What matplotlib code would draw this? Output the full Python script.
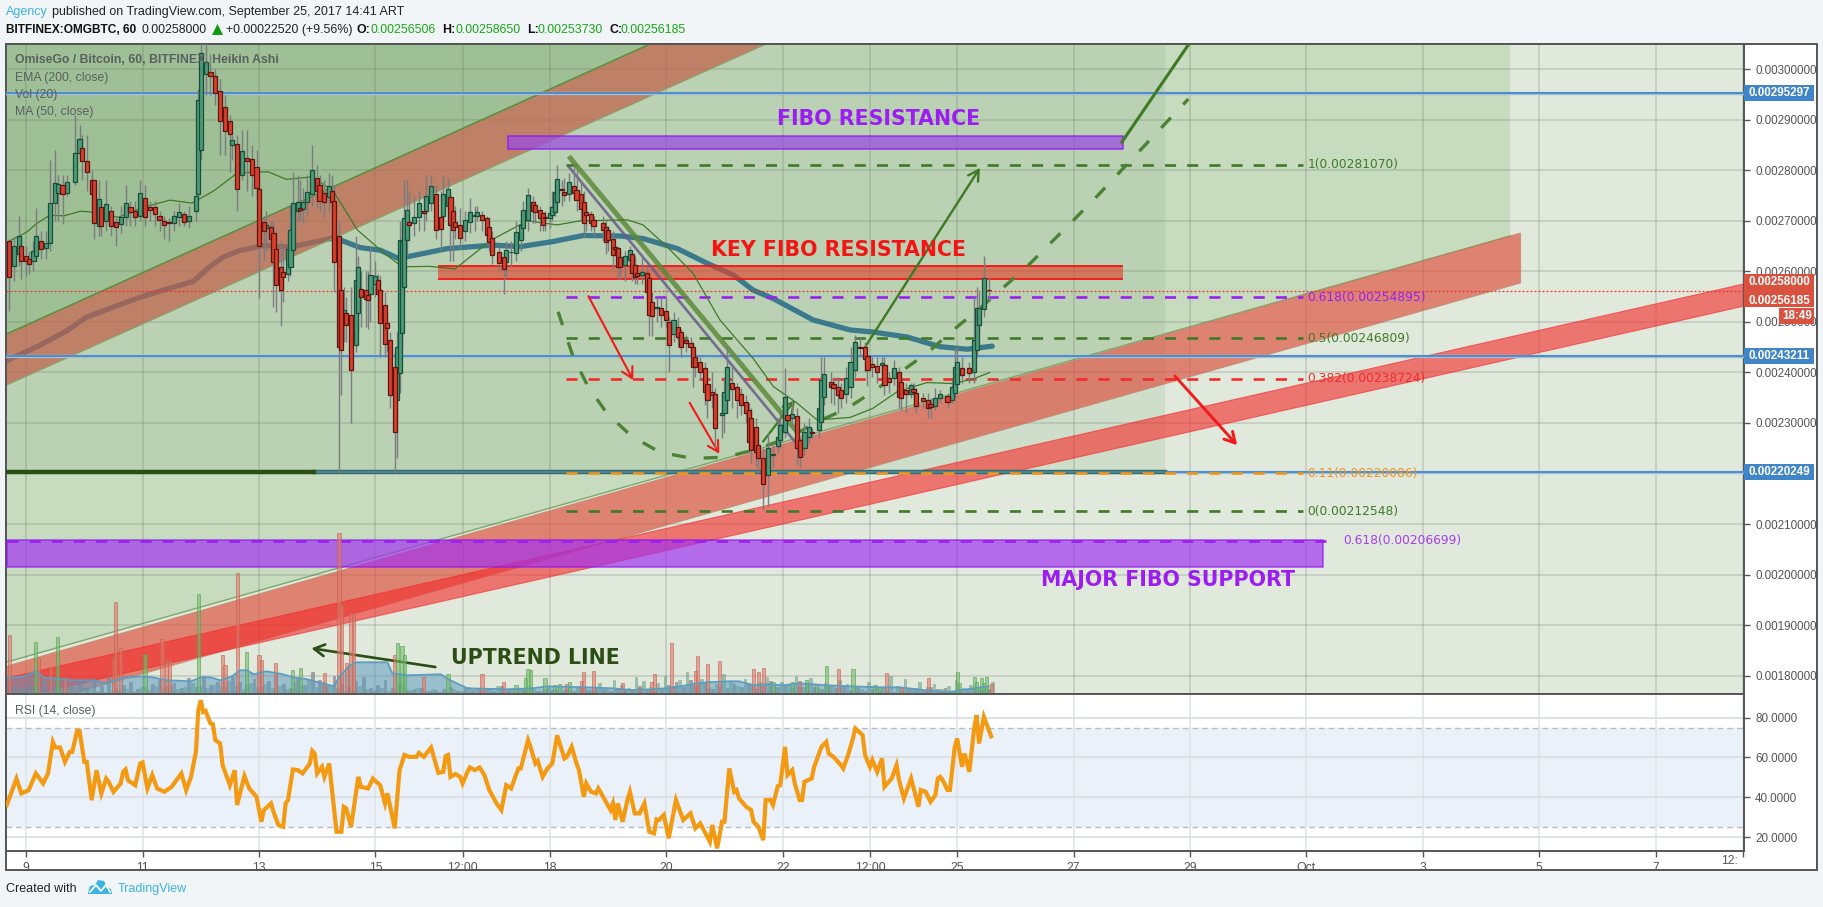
import numpy as np
import matplotlib
matplotlib.use('Agg')
import matplotlib.pyplot as plt
from matplotlib.patches import Polygon, Rectangle

# prices are in units of 1e-5 BTC, x axis is day of september (oct 1 = 31)
price_ticks = [300, 290, 280, 270, 260, 250, 240, 230, 220, 210, 200, 190, 180]
rsi_ticks = [80, 60, 40, 20]
date_ticks = [9, 11, 13, 15, 16.5, 18, 20, 22, 23.5, 25, 27, 29, 31, 33, 35, 37]
date_labels = ['9', '11', '13', '15', '12:00', '18', '20', '22', '12:00', '25', '27', '29', 'Oct', '3', '5', '7']
start_day = 8.665

candle_hour = [1, 3, 5, 6, 8, 9, 11, 12, 14, 16,
    18, 20, 21, 23, 25, 28, 30, 31, 33, 35,
    36, 38, 39, 41, 43, 45, 47, 49, 51, 53,
    55, 57, 59, 61, 63, 65, 67, 69, 71, 73,
    75, 78, 79, 80, 82, 84, 86, 88, 90, 92,
    93, 95, 97, 99, 101, 103, 104, 106, 107, 109,
    110, 111, 113, 114, 116, 117, 118, 120, 121, 122,
    124, 126, 128, 129, 131, 133, 134, 135, 137, 138,
    139, 140, 142, 144, 145, 146, 148, 149, 150, 152,
    153, 154, 156, 157, 158, 160, 161, 162, 163, 164,
    165, 166, 168, 170, 172, 173, 175, 177, 179, 180,
    182, 183, 184, 185, 187, 189, 191, 193, 194, 196,
    198, 199, 200, 203, 205, 206, 208, 210,
    212, 213, 215, 217, 218, 220, 221, 222, 224, 225,
    226, 227, 229, 230, 232, 234, 235, 237, 238, 239,
    241, 242, 246, 247, 248, 250, 251, 252, 253, 255,
    257, 258, 259, 260, 262, 264, 265, 266, 268, 270,
    272, 273, 275, 277, 278, 280, 282, 283, 284, 286,
    288, 289, 291, 292, 295, 296, 297, 299, 301, 303, 305,
    306, 307, 309, 310, 312, 314, 316, 318, 319, 321,
    322, 324, 326, 327, 329, 331, 332, 335, 336, 337,
    340, 341, 343, 344, 346, 348, 350, 352, 354, 355,
    357, 359, 361, 362, 364, 366, 368, 369, 371, 373,
    374, 375, 378, 380, 381, 383, 385, 388, 390, 391,
    392, 394, 397, 399, 400, 401, 403, 405]
candle_open = [266.1, 261.1, 263.4, 265, 263, 262.4, 262, 263, 266, 264.7,
    265.7, 273.5, 275.6, 277, 275.5, 277.6, 283.5, 284.5, 281.9, 278,
    278, 269, 272.7, 270, 272, 269.7, 269.3, 270.7, 272.7, 272,
    271, 274.6, 272.7, 272.7, 271, 270, 269.7, 269.6, 270.7, 271.3,
    270, 272, 275.3, 284, 299, 299.4, 298.7, 295.7, 292.5, 289.8,
    285, 285.2, 279, 282.5, 282.2, 280.6, 276.3, 269.7, 268.5, 268.8,
    267.5, 264.5, 260.9, 259.9, 259.5, 260.9, 264.2, 272, 272.6, 272.3,
    273.7, 275.4, 278.4, 277, 275.6, 274.8, 276, 274, 267, 256.3,
    250.3, 251.7, 251.3, 245.4, 251.8, 256.6, 256.3, 255.3, 255.6, 257.6,
    258.3, 256.3, 253.3, 249.7, 246.4, 241, 234.5, 239.8, 247.9, 256.9,
    266.2, 269.8, 269.5, 270.8, 272, 272, 273.5, 275.4, 270.8, 271,
    273, 274.8, 272, 269.8, 269.2, 267.9, 269.8, 271, 270.9, 271.2,
    270.5, 268.8, 266.7, 263.9, 262.9, 261.9, 263.8, 263.6,
    266.2, 268.5, 270.2, 273.8, 273.1, 272.1, 271.5, 270.8, 270.5, 271.2,
    271.8, 273.8, 276.4, 275.8, 275.4, 276.9, 276.1, 275.4, 273.8, 271.8,
    271.3, 270.2, 269.6, 268.7, 268.2, 266.5, 264.9, 264.7, 262.9, 261.2,
    262.2, 263.4, 261.2, 259.7, 259.3, 259.6, 258.6, 254, 252.8, 252.7,
    252.2, 250, 247.7, 249, 248, 246.4, 245.9, 245, 243.1, 242.1,
    240.8, 237.8, 236.2, 235.8, 231.6, 231.9, 234.5, 238, 237.2, 235.8, 234.2,
    232.5, 230.9, 229.2, 225.6, 223, 219.7, 223.7, 225.5, 226.6, 228.2,
    231.5, 230.9, 231.4, 226.6, 225.1, 227.2, 228.3, 228.6, 230.2, 235.2,
    238.1, 237.7, 237.2, 236.5, 235.8, 237.2, 240.5, 245, 245, 243.2,
    241.6, 241.3, 241.4, 241.4, 238.8, 238.8, 240, 238.1, 236.5, 235.8,
    236.8, 236, 235, 234.6, 233.7, 233.4, 235, 235.3, 234.6, 236,
    237.8, 240.8, 240.8, 240, 244.4, 249.4, 252.5, 256.4]
candle_close = [258.8, 265.1, 267, 262, 262, 261.4, 264, 267, 264.5, 265.7,
    273.5, 277.5, 277.3, 275.3, 277.6, 283.5, 286.2, 281.9, 279.6, 275.3,
    269.5, 274.3, 269, 273.3, 269, 268.7, 270.7, 273.6, 271.7, 270.7,
    275.6, 270.7, 272.2, 271.3, 270.1, 269.2, 269.6, 271, 271.8, 269.7,
    271, 275, 294, 303.3, 301.4, 298.7, 295.4, 289.8, 287.7, 287.2,
    286, 276.3, 283.9, 281.9, 279, 276.6, 265, 268, 269.2, 266.5,
    261.9, 257.3, 256.3, 258.9, 264.5, 268.2, 273.5, 273.8, 272.2, 273.8,
    275.8, 280, 276, 274, 273.8, 276.8, 273.8, 261.9, 245, 244.5,
    252.3, 249.4, 240.4, 258.3, 260.9, 255, 254.6, 254.3, 259.3, 259,
    255.6, 249.8, 245.7, 248.7, 235.5, 228.2, 245, 266.2, 266, 270.5,
    272.1, 269.2, 270.8, 273.5, 271.5, 275, 276.8, 268.2, 268.3, 275.4,
    276.4, 269.2, 268.2, 268.8, 266.7, 270.2, 271.8, 271.2, 271.8, 270.2,
    267.2, 265.9, 263.2, 261.6, 260.4, 264.2, 263.9, 267.8,
    269.2, 272.1, 275.1, 271.9, 271.8, 270.5, 269.2, 270.5, 271.5, 272.7,
    275.8, 278.2, 276.1, 275.1, 277.7, 275.6, 274.1, 272.3, 269.6, 271.1,
    269.6, 269, 268.2, 265.9, 266.2, 263.2, 264.4, 260.9, 260.8, 263,
    264.2, 259.6, 258.9, 259, 259.9, 256, 251.3, 251.1, 252.9, 251.3,
    250.4, 245.4, 250.3, 247, 245, 245.8, 245, 241.1, 241.1, 240.1,
    236.2, 234.5, 235.5, 229.1, 231.9, 236.2, 241.1, 236.8, 234.5, 233.5, 231.9,
    226.3, 224.6, 224.3, 223, 218, 225, 223.9, 227.3, 229.6, 235.2,
    230.6, 231.7, 225.1, 223.2, 228.2, 229.2, 228.1, 232.9, 238.6, 239.6,
    237.2, 237, 235.5, 235, 238.8, 242.1, 246, 244.9, 242.6, 240.5,
    241, 240.1, 241.9, 237.5, 238.1, 240.8, 235.2, 235, 235.8, 237.6,
    236.2, 233.4, 234.4, 232.9, 233.1, 235, 235.8, 234.2, 237.2, 241,
    242.1, 239.5, 239.8, 246.4, 252.7, 252.7, 258.6, 256.3]
candle_high = [266.5, 267, 271, 267, 265, 264, 266, 272.5, 268, 268,
    282, 284, 279, 279, 279, 291, 289, 287, 287, 280,
    278, 278, 274, 278, 273, 271, 273, 277, 274, 274,
    278, 277, 274, 274, 272, 271, 270.5, 272, 273.5, 272,
    273, 277, 296, 307, 306, 303, 300, 298, 295, 291,
    287, 287, 288, 288, 285, 284, 278, 271, 272, 270,
    270, 268, 266, 265, 268, 273, 279.6, 279, 278, 276.5,
    279, 285, 281, 279, 278, 279.5, 279, 277, 270, 258,
    257, 255, 257, 267, 263, 260, 260, 260, 265, 262,
    259.5, 259, 256, 252, 248, 244, 248, 270, 269, 278,
    278, 276, 275, 276, 275, 279, 279, 277, 276, 279,
    278.5, 276, 274, 273, 272.5, 272, 274.5, 273, 273, 272,
    271, 270, 268, 265, 264, 266, 266, 270,
    272, 274, 276.5, 275, 274, 273, 271.5, 272, 273, 276,
    278, 281, 278, 278.5, 279.5, 281, 280, 278, 276, 273,
    272, 271, 271, 270, 269, 268, 265.5, 265, 264, 264,
    265, 264, 263, 261, 263, 261, 259, 256, 255, 255,
    255, 251, 252, 251, 248.5, 247.5, 247, 246, 244, 243,
    242, 239, 240, 237, 236, 239, 245.5, 241, 238, 237, 235.5,
    234, 233, 231, 227, 225, 228, 226, 231, 232, 240.8,
    234, 235, 233, 227, 230, 231, 229, 234.5, 243, 243,
    240, 239, 239, 238, 241, 245, 247.5, 247, 246, 243.5,
    243, 243, 243, 243, 240, 242.5, 241, 239, 238, 238,
    238, 237, 236, 236, 235, 237, 236.5, 236, 238.5, 245,
    245, 243, 242, 255, 257, 256, 263, 258.6]
candle_low = [252.2, 258, 261, 258.5, 259, 259.5, 260, 262, 262.5, 262.5,
    264, 270, 270, 269.4, 275, 277, 282, 278, 276, 272,
    266.5, 267, 267, 268, 267, 265, 267.5, 269, 269, 269,
    270, 269, 270, 269, 268, 266.5, 266, 268, 269, 269,
    268.5, 270, 274, 282, 295, 295, 293, 283, 283, 279.6,
    282, 272, 278, 276, 275, 274, 254.8, 262, 264, 262,
    253, 252, 249.2, 254, 258, 259, 263, 270, 270, 269.5,
    271, 273, 272.5, 272, 270.5, 272, 270, 256, 220, 235.5,
    246, 246, 230, 244, 248, 249, 249, 248.5, 250, 255,
    252, 243, 243, 244, 233, 220, 223, 236, 245, 255,
    263, 266, 267, 268, 268, 270, 272, 266.5, 264, 270,
    272, 262, 262, 266.5, 264.5, 266, 267.5, 268, 270, 268,
    265.5, 264, 261.5, 260, 255.6, 259, 261, 262,
    264, 266.5, 268, 269.5, 269.5, 268, 268, 268, 268.5, 270,
    271, 273, 273, 274, 274, 274.5, 272, 270, 266.8, 268,
    268, 267, 266, 263.5, 264, 260.5, 263, 258.5, 258.5, 258,
    260, 258, 257.5, 257.5, 257.5, 254, 247.2, 247.2, 250, 249,
    249, 240.1, 246, 245, 243, 244, 243.5, 237.2, 239, 238.5,
    233.5, 231, 233, 225, 227, 228, 232, 233, 231, 231.5, 230,
    224, 222, 221.5, 220, 212.8, 213.5, 221, 224, 225, 227,
    229, 229, 221.6, 221, 223.5, 226, 227, 227, 231.5, 233.5,
    234, 233.5, 232, 233, 234, 235, 239, 243, 240, 237.4,
    239, 238, 239.5, 235.5, 236, 237.5, 233, 232.5, 232, 235,
    233, 232, 233, 231, 231, 232.5, 234, 233, 234, 235,
    237, 238, 238, 238, 243, 248, 251, 254]

ema_day = [8.66, 9.22, 9.69, 10.03, 10.49, 10.94, 11.41, 11.87, 12.14, 12.38, 12.66, 13.07, 13.54, 14.27, 14.4, 14.74,
    15.08, 15.39, 15.55, 15.89, 16.23, 16.68, 17.02, 17.49, 18.05, 18.57, 19.21, 19.6, 20.19, 20.7, 21.15, 21.49,
    21.84, 22.52, 23.16, 23.55, 24.14, 24.7, 25.17, 25.6]
ema_val = [242.3, 245.3, 248.2, 250.9, 252.9, 254.8, 256.5, 258, 260.8, 262.8, 264.1, 265.1, 264.8, 266.6, 266.2, 264.7,
    264.2, 262.6, 262.9, 263.7, 264.5, 264.9, 265.2, 264.9, 265.9, 267.1, 267, 266.5, 264.5, 261.6, 259.3, 256.3,
    254.6, 250.4, 248.4, 248, 247, 245.1, 244.6, 245.2]
ma_day = [8.66, 9, 9.17, 9.4, 9.65, 9.93, 10.08, 10.58, 11.01, 11.47, 11.85, 12.23, 12.63, 13.16, 13.47, 13.91, 14.27,
    14.69, 15.15, 15.46, 15.92, 16.37, 16.99, 17.61, 18.12, 18.52, 19.33, 19.6, 20.01, 20.46, 20.92, 21.49, 21.84,
    22.25, 22.59, 23.16, 23.55, 23.97, 24.48, 24.93, 25.27, 25.56]
ma_val = [265.7, 267.7, 269.4, 271.1, 271, 271.9, 271.8, 270.7, 272.7, 274.1, 273.5, 276, 279.5, 279.7, 278.2, 278.7, 276,
    268.2, 263.6, 260.9, 261, 260.5, 266.2, 270, 269.2, 270, 270.2, 269.2, 264.9, 259.6, 250.4, 242.8, 237.2,
    233.9, 230.6, 231.1, 232.9, 236.2, 238, 237.8, 238.7, 240]

cup_day = [18.14, 18.40, 18.66, 18.98, 19.40, 19.89, 20.44, 21.0, 21.49, 22.09, 22.59, 23.11, 23.59, 24.50, 24.93, 25.39,
    26.22, 27.02, 27.42, 28.97]
cup_val = [252.0, 243.0, 237.1, 231.9, 227.4, 224.2, 223.0, 223.2, 224.6, 227.0, 230.2, 232.9, 236.5, 244.0, 248.4, 252.7,
    261.2, 270.4, 275.1, 294.1]

fib_levels = [281.07, 254.895, 246.809, 238.724, 220.086, 212.548]
fib_names = ['1(0.00281070)', '0.618(0.00254895)', '0.5(0.00246809)', '0.382(0.00238724)', '0.11(0.00220086)', '0(0.00212548)']
fib_colors = ['#3f7a27', '#9c1ff2', '#3f7a27', '#f22b2b', '#f0961a', '#3f7a27']
blue_levels = [295.297, 243.211, 220.249]

vol_red_hour = [1, 13, 18, 24, 44, 45, 47, 64, 66, 67, 89, 90, 95, 104, 105, 111, 131, 137, 138, 140, 142, 143, 160, 172,
    196, 205, 231, 237, 238, 242, 254, 261, 266, 267, 274, 284, 285, 289, 294, 308, 310, 312, 327, 343, 363, 369, 380, 406]
vol_red = [59, 36, 27, 17, 37, 92, 46, 55, 34, 34, 39, 29, 121, 39, 34, 31, 21, 161, 89, 31, 81, 81, 39, 17,
    20, 12, 10, 13, 22, 23, 11, 6, 12, 20, 51, 23, 38, 30, 33, 25, 22, 26, 13, 25, 21, 6, 16, 10]
vol_green_hour = [12, 21, 57, 79, 99, 118, 121, 161, 163, 164, 182, 210, 214, 215, 216, 222, 226, 228, 232, 316, 324, 330,
    334, 338, 349, 358, 360, 392, 393, 399, 400, 402, 403, 404]
vol_green = [52, 57, 40, 100, 42, 24, 26, 51, 48, 39, 20, 9, 16, 25, 24, 16, 9, 10, 12, 12, 12, 14,
    9, 28, 25, 9, 7, 22, 11, 17, 12, 16, 11, 17]
# small bars, one every 3 hours from hour 0
vol_small = [12, 8, 5, 9, 6, 14, 8, 5, 10, 7, 12, 6, 15, 8, 18, 6, 9, 12, 5, 7, 10, 14, 8, 11, 6, 16, 7, 18, 9, 12,
    8, 17, 12, 9, 15, 8, 13, 20, 10, 6, 15, 9, 22, 14, 8, 18, 11, 7, 13, 17, 6, 9, 14, 6, 11, 4, 5, 6, 3, 4,
    5, 7, 3, 6, 4, 6, 5, 3, 8, 5, 4, 6, 7, 3, 5, 4, 2, 5, 3, 6, 4, 7, 5, 3, 6, 4, 5, 8, 4, 3, 6, 9, 12, 7, 14, 9,
    12, 5, 8, 6, 10, 7, 11, 5, 8, 13, 7, 9, 6, 8, 11, 7, 5, 9, 6, 8, 4, 7, 3, 5, 4, 3, 2, 3, 5, 6, 4, 7, 5, 6, 3, 5, 4, 6, 4, 5]
volma_hour = [0, 7, 12, 15, 27, 36, 41, 47, 55, 60, 66, 76, 80, 84, 88, 93, 96, 99, 102, 107, 114, 118, 124, 130, 135, 137,
    141, 144, 157, 159, 165, 179, 183, 190, 206, 217, 223, 238, 250, 258, 272, 278, 285, 289, 298, 302, 308, 314, 320, 327,
    338, 348, 359, 368, 379, 388, 396, 405]
volma_val = [16, 18, 23, 17, 14, 14, 11, 16, 18, 17, 14, 13, 17, 17, 14, 18, 24, 24, 20, 23, 20, 17, 15, 11, 8, 17,
    28, 32, 32, 21, 19, 20, 14, 6, 5, 6, 8, 7, 6, 4, 6, 8, 11, 12, 13, 13, 9, 10, 9, 11,
    9, 8, 7, 7, 4, 2, 5, 8]

rsi_hour = [0, 4, 6, 9, 12, 15, 17, 19, 20, 22, 24, 26, 27, 29, 30, 32, 33, 35, 37, 39, 41, 42, 44, 47, 48, 49, 50, 53, 55, 56,
    58, 60, 62, 65, 68, 72, 74, 76, 78, 79, 80, 81, 82, 84, 85, 86, 88, 89, 90, 92, 94, 95, 98, 100, 103, 105, 106, 109, 110, 112,
    114, 115, 116, 118, 120, 122, 125, 126, 127, 128, 130, 131, 133, 134, 136, 138, 139, 140, 142, 145, 146, 149, 151, 154, 156, 157, 160, 162, 164, 166,
    169, 170, 172, 175, 178, 180, 181, 182, 183, 185, 187, 188, 190, 191, 193, 195, 197, 199, 202, 204, 206, 208, 211, 212, 215, 216, 218, 219, 221, 223,
    225, 227, 230, 231, 233, 235, 236, 238, 239, 241, 243, 244, 249, 250, 251, 252, 254, 256, 257, 259, 261, 263, 265, 267, 268, 269, 271, 273, 276, 278,
    279, 282, 284, 286, 290, 291, 293, 295, 296, 298, 300, 301, 302, 305, 307, 308, 310, 312, 313, 315, 316, 318, 319, 321, 322, 324, 325, 327, 328, 329,
    332, 333, 336, 338, 339, 341, 344, 345, 347, 349, 350, 353, 354, 356, 357, 359, 361, 362, 365, 367, 368, 370, 371, 373, 376, 377, 379, 381, 383, 384,
    385, 386, 388, 389, 391, 392, 394, 395, 397, 399, 400, 401, 403, 406]
rsi_val = [36.2, 49.4, 42, 43.6, 52, 47, 52, 67.8, 65, 65, 57.8, 62.8, 62.8, 73.3, 73.3, 57.8, 57.8, 38.6, 53.6, 42, 49.4, 47.8, 42.8, 47, 52.8, 54, 48.6, 46.1, 57, 57.5,
    44.5, 51.2, 44.5, 42.8, 45.3, 52, 43.6, 50.3, 62.8, 83.6, 88.7, 82.8, 83.3, 77, 76.7, 68.7, 67, 56.2, 52.8, 46.1, 53.6, 36.2, 50.7, 44.5, 40.3, 27.8, 33.6, 37, 32.8, 26.2,
    25.3, 37, 38.7, 54, 53.7, 52, 57, 63.3, 62, 52, 55.3, 50.3, 57, 45.3, 22.8, 22.8, 35.3, 34.5, 25.3, 50.3, 45.3, 44.5, 49.4, 46.1, 37, 42, 24.5, 53.7, 61.2, 60.3,
    60.3, 62.3, 60.3, 65, 52.3, 52.8, 60.7, 61.2, 50.3, 51.7, 50.3, 47, 52.8, 55, 53.7, 55, 51.2, 43.7, 37, 33.7, 46.1, 44.5, 54.5, 54.5, 68.7, 65.3, 57, 58.3, 50.3, 54.5,
    57, 71.1, 59.5, 60.3, 65.3, 57, 53.7, 40.3, 47, 42.8, 42, 44.5, 33.7, 37, 28.7, 37, 27.8, 38.7, 42.8, 32, 32, 37, 22.8, 22, 29, 28.7, 31.2, 19.5, 38.7, 32,
    28.7, 32, 24.5, 27, 17.8, 26.2, 14.5, 27.8, 27.8, 54.5, 42.8, 43.7, 39.5, 35.3, 33.7, 27.8, 25.3, 18.6, 38.7, 38.7, 36.2, 45.6, 46.1, 65.3, 51.2, 53.7, 47, 38.7, 38.7, 47.8,
    49.5, 55.3, 65.3, 67.8, 62, 60.3, 56.2, 54.5, 61.2, 69.5, 74.5, 71.2, 61.2, 55.3, 58.7, 52.8, 59.5, 45.3, 49.5, 56.2, 48.7, 39.5, 42.8, 49.5, 35.3, 43.7, 42.8, 37.8, 41.2, 49.5,
    50.3, 48.7, 43.7, 43.7, 65.3, 69.5, 55.3, 62, 52.8, 74.5, 81.2, 67, 80.3, 70.6]

W, H = 1824, 907
fig = plt.figure(figsize=(W / 100, H / 100), dpi=100, facecolor='#f1f5f8')
plt.rcParams['font.family'] = ['Liberation Sans', 'DejaVu Sans']

def pane(left, top, right, bottom, **kw):
    return fig.add_axes([left / W, 1 - bottom / H, (right - left) / W, (bottom - top) / H], **kw)

# page layer: frame, header and footer, in pixels
page = pane(0, 0, W, H, zorder=-1)
page.set_xlim(0, W)
page.set_ylim(H, 0)
page.axis('off')
page.add_patch(Rectangle((6, 44), 1811, 826, fc='white', ec='#555555', lw=1.4))

page.text(6, 12, 'Agency', color='#3bb3e4', fontsize=9, va='center')
page.text(52, 12, 'published on TradingView.com, September 25, 2017 14:41 ART', color='#222222', fontsize=9, va='center')
page.text(6, 30, 'BITFINEX:OMGBTC, 60', color='#111111', fontsize=8.6, fontweight='bold', va='center')
page.text(142, 30, '0.00258000', color='#222222', fontsize=8.9, va='center')
page.add_patch(Polygon([[212, 35], [223, 35], [217.5, 24]], fc='#0f9d0f', ec='none'))
page.text(226, 30, '+0.00022520 (+9.56%)', color='#222222', fontsize=8.9, va='center')
for lx, lab, vx, val in [(357, 'O:', 371, '0.00256506'), (442, 'H:', 456, '0.00258650'),
                         (527, 'L:', 538, '0.00253730'), (610, 'C:', 621, '0.00256185')]:
    page.text(lx, 30, lab, color='#111111', fontsize=8.9, fontweight='bold', va='center')
    page.text(vx, 30, val, color='#17a817', fontsize=8.9, va='center')
page.text(6, 889, 'Created with', color='#222222', fontsize=9, va='center')
page.text(118, 889, 'TradingView', color='#3bb3e4', fontsize=9, va='center')
page.add_patch(Polygon([[88, 893], [90, 886], [95, 885], [98, 880], [104, 881], [107, 887], [111, 889], [112, 894], [88, 894]],
                       fc='#3bb3e4', ec='none'))
page.plot([90, 96, 101, 106, 110], [892, 885, 891, 885, 892], color='white', lw=1.3)

main = pane(6.5, 44, 1744, 694.3)
main.set_xlim(8.66, 38.52)
main.set_ylim(176.3, 305.0)
main.set_facecolor('#e0e9dc')

candle_day = start_day + np.array(candle_hour) / 24

grid_days = date_ticks + [38.5]
for d in grid_days:
    main.axvline(d, color='#5a665a', alpha=.24, lw=1.1, zorder=1.5)
for p in price_ticks:
    main.axhline(p, color='#5a665a', alpha=.24, lw=1.1, zorder=1.5)

# shaded zones
main.add_patch(Polygon([[8.67, 182.7], [34.5, 267], [34.5, 305.2], [8.67, 305.2]], fc='#8fbb7f', alpha=.3, ec='none', zorder=1))
main.plot([8.67, 34.5], [182.7, 267], color='#7da76c', lw=1, zorder=1.2)
main.add_patch(Rectangle((8.66, 220.25), 28.57 - 8.66, 85, fc='#7fa87a', alpha=.17, ec='none', zorder=1.1))
main.add_patch(Polygon([[8.66, 247.6], [19.76, 305.2], [8.66, 305.2]], fc='#7aa86f', alpha=.42, ec='none', zorder=1.2))

main.plot(ema_day, ema_val, color='#3a7a8c', lw=3.8, zorder=2, solid_capstyle='round')

main.add_patch(Polygon([[8.66, 247.6], [19.76, 305.2], [21.75, 305.2], [8.66, 237.5]], fc='#c15f49', alpha=.7, ec='none', zorder=2.1))
main.plot([8.66, 19.76], [247.6, 305.2], color='#5f8f3f', lw=1.2, zorder=2.2)
main.plot([8.66, 21.75], [237.5, 305.2], color='#8f9f68', lw=.9, zorder=2.2)
main.add_patch(Polygon([[8.67, 181.9], [34.68, 267.6], [34.68, 257.7], [9.76, 176.3], [8.67, 176.3]],
                       fc='#de4b39', ec='#b9876a', lw=.8, alpha=.65, zorder=2.3))
main.add_patch(Polygon([[8.66, 179.5], [38.51, 257.5], [38.51, 253.1], [9.1, 176.3], [8.66, 176.3]],
                       fc='#f52828', ec='#f52828', lw=.8, alpha=.6, zorder=2.4))

main.add_patch(Rectangle((16.07, 258.4), 27.85 - 16.07, 2.6, fc='#e0452f', alpha=.65, ec='none', zorder=2.5))
main.hlines([258.4, 261], 16.07, 27.85, color='#f51414', lw=1.3, zorder=2.6)
main.add_patch(Rectangle((17.27, 284.15), 27.85 - 17.27, 2.7, fc='#9a4fe0', alpha=.75, ec='#8f14f0', lw=1.2, zorder=2.6))
main.add_patch(Rectangle((8.66, 201.4), 31.28 - 8.66, 5.4, fc='#a030f0', alpha=.68, ec='#8f14f0', lw=1.2, zorder=2.6))

# levels
main.plot([13.95, 28.57], [220.25, 220.25], color='#3f6f4f', lw=3.2, zorder=2.7)
for p in blue_levels:
    main.axhline(p, color='#9fc0dc', lw=2.4, zorder=2.65)
    main.axhline(p, color='#4485c4', lw=1.2, zorder=2.8)
main.plot([8.66, 13.95], [220.25, 220.25], color='#2a4e14', lw=3.2, zorder=2.85)
main.axhline(256.185, color='#e8352a', lw=.9, ls=(0, (1.6, 1.6)), zorder=2.8)
for p, name, col in zip(fib_levels, fib_names, fib_colors):
    main.plot([18.28, 30.94], [p, p], color=col, lw=1.9, ls=(0, (4.2, 4.2)), zorder=2.9)
    main.text(31.02, p, name, color=col, fontsize=8.8, family='DejaVu Sans', va='center', zorder=3)
main.plot([8.66, 31.5], [206.7, 206.7], color='#9c1ff2', lw=1.9, ls=(0, (4.2, 4.2)), zorder=2.9)
main.text(31.63, 206.7, '0.618(0.00206699)', color='#a63df0', fontsize=8.8, family='DejaVu Sans', va='center', zorder=3)

# hand drawn lines
main.plot(cup_day, cup_val, color='#4c8234', lw=2.4, ls=(0, (4.2, 5.4)), zorder=3)
main.plot([18.35, 22.25], [282.4, 228.2], color='#5f8a3a', lw=3.6, alpha=.85, zorder=3)
main.plot([18.33, 22.2], [280.6, 226.4], color='#6a5a8c', lw=1.9, alpha=.85, zorder=3)
main.plot(ma_day, ma_val, color='#3f7a27', lw=.9, zorder=3.1)

def arrow(x0, y0, x1, y1, color, lw):
    main.annotate('', xy=(x1, y1), xytext=(x0, y0), zorder=3.2,
                  arrowprops=dict(arrowstyle='->,head_length=0.75,head_width=0.42', color=color, lw=lw, shrinkA=0, shrinkB=0))

arrow(23.42, 245.1, 25.39, 280.5, '#3d7a22', 1.7)
arrow(21.66, 226.3, 22.21, 234.5, '#3d7a22', 1.6)
arrow(18.66, 255.1, 19.43, 238.5, '#f21a1a', 1.5)
arrow(20.40, 234, 20.91, 223.9, '#f21a1a', 1.5)
arrow(28.74, 239.3, 29.81, 225.6, '#f21a1a', 2.1)
arrow(16.03, 181.7, 13.9, 185.4, '#2a4e14', 1.9)
main.plot([27.83, 28.98], [285.6, 305], color='#3d7a22', lw=2.2, zorder=3.2)

# candles
o = np.array(candle_open)
c = np.array(candle_close)
up = c >= o
main.vlines(candle_day, candle_low, candle_high, color='#7b7b80', lw=1, zorder=4)
bw = 1.7 / 24
main.bar(candle_day[up], (c - o)[up], bottom=o[up], width=bw, color='#4f9a78', edgecolor='#17503a', lw=.9, zorder=4.2)
main.bar(candle_day[~up], (c - o)[~up], bottom=o[~up], width=bw, color='#d8402c', edgecolor='#5c1510', lw=.9, zorder=4.2)

# annotation labels
for tx, ty, t, col in [(21.9, 290.15, 'FIBO RESISTANCE', '#9c1cf2'), (20.77, 264.15, 'KEY FIBO RESISTANCE', '#f51414'),
                       (26.44, 198.9, 'MAJOR FIBO SUPPORT', '#9c1cf2'), (16.3, 183.4, 'UPTREND LINE', '#2a4e14')]:
    main.text(tx, ty, t, color=col, fontsize=14.8, fontweight='bold', family='DejaVu Sans', va='center', zorder=5)

# legend
for ty, t, w in [(60, 'OmiseGo / Bitcoin, 60, BITFINEX, Heikin Ashi', 'bold'), (78, 'EMA (200, close)', 'normal'),
                 (95, 'Vol (20)', 'normal'), (112, 'MA (50, close)', 'normal')]:
    fig.text(15 / W, 1 - ty / H, t, color='#5a5f5f', fontsize=8.8, fontweight=w, va='center', zorder=10)

# volume on its own hidden scale
vol = main.twinx()
vol.set_ylim(0, 650.3)
vol.axis('off')
vol.bar(start_day + np.arange(len(vol_small)) * 3 / 24, vol_small, width=1.1 / 24, color='#8e8490', alpha=.75, ec='#7a6f7c', lw=.4)
vol.bar(start_day + (np.arange(len(vol_small)) * 3 + 1.5) / 24, vol_small[::-1], width=1.1 / 24, color='#5f9f7f', alpha=.55, ec='#4f8f6f', lw=.4)
vol.fill_between(start_day + np.array(volma_hour) / 24, volma_val, 0, color='#5f9cc0', alpha=.55, lw=0)
vol.plot(start_day + np.array(volma_hour) / 24, volma_val, color='#5f9cc0', lw=1.3)
vol.bar(start_day + np.array(vol_red_hour) / 24, vol_red, width=1.3 / 24, color='#dd7a6a', alpha=.6, ec='#c8604f', lw=.7)
vol.bar(start_day + np.array(vol_green_hour) / 24, vol_green, width=1.3 / 24, color='#6fbf6a', alpha=.6, ec='#5a9e50', lw=.7)

# price axis, after twinx which moves the ticks. 0.0022 sits behind the blue box
main.yaxis.tick_right()
main.set_xticks([])
main.set_yticks(price_ticks)
main.set_yticklabels(['' if p == 220 else '%.8f' % (p * 1e-5) for p in price_ticks], fontsize=8.4, color='#555555')
main.tick_params(axis='y', length=4, width=1, color='#555555', pad=4)
for s in main.spines.values():
    s.set_color('#555555')
    s.set_linewidth(1.4)

yt = main.get_yaxis_transform()
box_w = 70 / 1737.5
for p, label in [(295.297, '0.00295297'), (243.211, '0.00243211'), (220.249, '0.00220249')]:
    main.add_patch(Rectangle((1.0, p - 1.55), box_w, 3.1, transform=yt, fc='#3f85c8', ec='none', clip_on=False, zorder=6))
    main.text(1.0 + 5 / 1737.5, p, label, transform=yt, color='white', fontsize=8.4, fontweight='bold', va='center', clip_on=False, zorder=7)
main.add_patch(Rectangle((1.0, 253), box_w, 6.4, transform=yt, fc='#d9513f', ec='none', clip_on=False, zorder=6))
main.text(1.0 + 5 / 1737.5, 257.9, '0.00258000', transform=yt, color='white', fontsize=8.4, fontweight='bold', va='center', clip_on=False, zorder=7)
main.text(1.0 + 5 / 1737.5, 254.2, '0.00256185', transform=yt, color='white', fontsize=8.4, fontweight='bold', va='center', clip_on=False, zorder=7)
main.add_patch(Rectangle((1.0 + 35 / 1737.5, 249.6), 35 / 1737.5, 3.1, transform=yt, fc='#d9513f', ec='none', clip_on=False, zorder=6))
main.text(1.0 + 38 / 1737.5, 251.1, '18:49', transform=yt, color='white', fontsize=8.4, fontweight='bold', va='center', clip_on=False, zorder=7)

# rsi pane
rsi = pane(6.5, 694.3, 1744, 851)
rsi.set_xlim(8.66, 38.52)
rsi.set_ylim(13.15, 91.65)
rsi.axhspan(25, 75, color='#eaf1f8', lw=0, zorder=0)
for d in grid_days:
    rsi.axvline(d, color='#dfe3e7', lw=1.1, zorder=1)
for r in rsi_ticks:
    rsi.axhline(r, color='#d8dde3', lw=1.2, zorder=1)
for r in (25, 75):
    rsi.axhline(r, color='#b5bcc5', lw=1, ls=(0, (4, 3)), zorder=1.5)
rsi.plot(start_day + np.array(rsi_hour) / 24, rsi_val, color='#f39a12', lw=3, zorder=3, solid_joinstyle='miter')
fig.text(15 / W, 1 - 711 / H, 'RSI (14, close)', color='#5a5f5f', fontsize=8.7, va='center', zorder=10)
rsi.yaxis.tick_right()
rsi.set_yticks(rsi_ticks)
rsi.set_yticklabels(['%.4f' % r for r in rsi_ticks], fontsize=8.4, color='#555555')
rsi.set_xticks(date_ticks + [38.5])
rsi.set_xticklabels(date_labels + [''], fontsize=8.8, color='#555555')
rsi.text(38.42, 13.15 - 5, '12:', fontsize=8.8, color='#555555', ha='right', va='center', clip_on=False)
rsi.tick_params(axis='both', length=4, width=1, color='#555555', pad=4)
for s in rsi.spines.values():
    s.set_color('#555555')
    s.set_linewidth(1.4)

fig.savefig('out.png', dpi=100, facecolor=fig.get_facecolor())
